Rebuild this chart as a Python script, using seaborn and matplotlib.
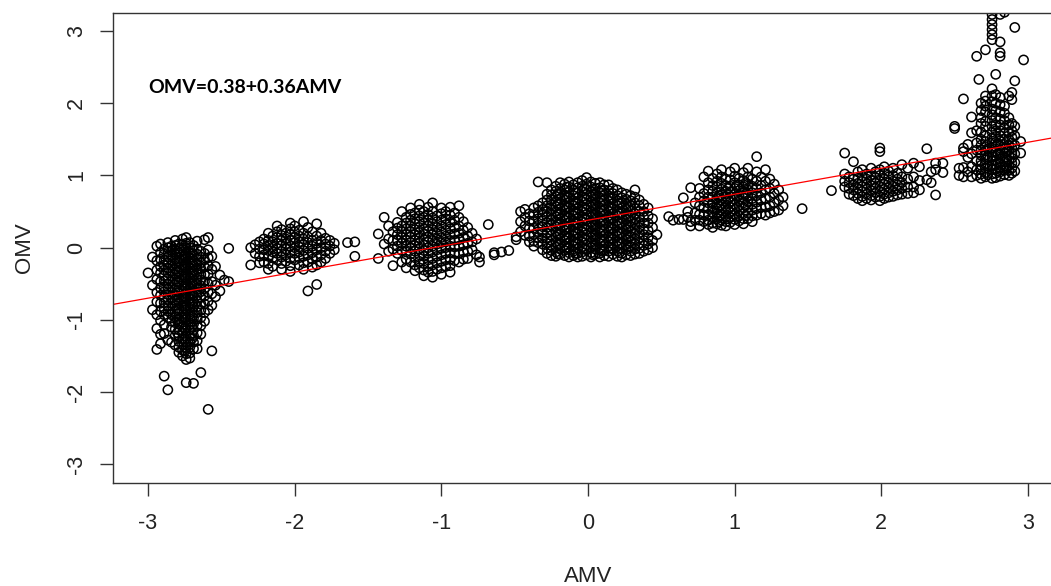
import pandas as pd
import matplotlib.pyplot as plt
import seaborn as sns

# points, grouped by cluster: AMV column -> OMV values
cluster_m3 = {
    -3.00: [-0.35],
    -2.97: [-0.13, -0.52, -0.86],
    -2.94: [0.02, -0.18, -0.31, -0.44, -0.62, -0.75, -0.93, -1.12, -1.41],
    -2.915: [0.05, -0.07, -0.16, -0.26, -0.35, -0.47, -0.56, -0.66, -0.77, -0.88, -1.01, -1.2, -1.33],
    -2.89: [-0.02, -0.09, -0.17, -0.24, -0.31, -0.39, -0.46, -0.54, -0.61, -0.69, -0.76, -0.84, -0.93, -1.07, -1.19, -1.78],
    -2.865: [0.07, 0.0, -0.06, -0.13, -0.21, -0.28, -0.35, -0.43, -0.5, -0.57, -0.65, -0.72, -0.8, -0.88, -0.97, -1.28, -1.97],
    -2.84: [0.02, -0.04, -0.11, -0.18, -0.25, -0.33, -0.4, -0.47, -0.55, -0.62, -0.7, -0.77, -0.85, -0.93, -1.02, -1.1, -1.31],
    -2.815: [0.1, 0.03, -0.03, -0.09, -0.16, -0.22, -0.3, -0.37, -0.44, -0.51, -0.58, -0.66, -0.73, -0.8, -0.88, -0.96, -1.04, -1.13, -1.22, -1.35],
    -2.80: [-0.05, -0.19, -0.33, -0.47, -0.6, -0.72, -0.86, -1.0, -1.18],
    -2.79: [0.05, -0.01, -0.07, -0.14, -0.2, -0.27, -0.34, -0.41, -0.48, -0.55, -0.62, -0.69, -0.76, -0.84, -0.91, -0.99, -1.06, -1.14, -1.22, -1.3, -1.38, -1.45],
    -2.765: [0.12, 0.04, -0.03, -0.1, -0.17, -0.24, -0.31, -0.38, -0.45, -0.52, -0.6, -0.67, -0.74, -0.81, -0.88, -0.96, -1.03, -1.1, -1.18, -1.26, -1.34, -1.42, -1.5],
    -2.75: [-0.12, -0.26, -0.4, -0.54, -0.68, -0.83, -0.97, -1.12, -1.27, -1.43],
    -2.74: [0.14, 0.06, -0.01, -0.08, -0.15, -0.22, -0.29, -0.36, -0.43, -0.5, -0.57, -0.64, -0.71, -0.79, -0.86, -0.93, -1.0, -1.08, -1.15, -1.23, -1.31, -1.39, -1.47, -1.55, -1.87],
    -2.715: [0.07, 0.0, -0.07, -0.14, -0.21, -0.28, -0.35, -0.42, -0.49, -0.56, -0.63, -0.7, -0.77, -0.84, -0.92, -0.99, -1.07, -1.14, -1.22, -1.3, -1.38, -1.46, -1.53],
    -2.70: [-0.08, -0.22, -0.36, -0.5, -0.64, -0.78, -0.95, -1.1, -1.26],
    -2.69: [0.03, -0.04, -0.11, -0.18, -0.25, -0.32, -0.39, -0.46, -0.53, -0.6, -0.67, -0.75, -0.82, -0.9, -0.98, -1.06, -1.14, -1.22, -1.31, -1.4, -1.88],
    -2.665: [0.09, -0.02, -0.09, -0.16, -0.23, -0.3, -0.37, -0.44, -0.51, -0.58, -0.66, -0.74, -0.82, -0.9, -0.99, -1.08, -1.18, -1.29, -1.4],
    -2.64: [-0.05, -0.13, -0.21, -0.29, -0.37, -0.45, -0.53, -0.61, -0.69, -0.78, -0.87, -0.97, -1.08, -1.2, -1.73],
    -2.615: [0.11, -0.08, -0.17, -0.27, -0.37, -0.47, -0.57, -0.67, -0.78, -0.9, -1.02],
    -2.59: [0.14, -0.03, -0.14, -0.25, -0.37, -0.5, -0.62, -0.74, -0.86, -2.24],
    -2.565: [-0.12, -0.3, -0.47, -0.64, -0.8, -1.43],
    -2.54: [-0.26, -0.52, -0.68],
    -2.51: [-0.38, -0.6],
    -2.48: [-0.45],
    -2.45: [-0.01, -0.47],
}

cluster_m2 = {
    -2.30: [0.0, -0.24],
    -2.27: [0.04, -0.08],
    -2.24: [0.08, -0.02, -0.12, -0.21],
    -2.21: [0.12, 0.05, -0.03, -0.1, -0.2],
    -2.18: [0.2, 0.1, 0.03, -0.04, -0.12, -0.22, -0.3],
    -2.15: [0.16, 0.08, 0.01, -0.06, -0.14, -0.26],
    -2.12: [0.3, 0.22, 0.14, 0.06, -0.01, -0.08, -0.17],
    -2.09: [0.25, 0.17, 0.1, 0.03, -0.05, -0.13, -0.22, -0.3],
    -2.06: [0.2, 0.12, 0.05, -0.02, -0.1, -0.19],
    -2.03: [0.34, 0.26, 0.18, 0.1, 0.02, -0.06, -0.15, -0.25, -0.33],
    -2.00: [0.3, 0.22, 0.14, 0.07, 0.0, -0.08, -0.17],
    -1.97: [0.24, 0.16, 0.08, 0.01, -0.06, -0.14, -0.24],
    -1.94: [0.36, 0.2, 0.12, 0.04, -0.04, -0.12, -0.21, -0.3],
    -1.91: [0.28, 0.15, 0.07, -0.01, -0.1, -0.2, -0.6],
    -1.88: [0.22, 0.1, 0.02, -0.07, -0.16, -0.27],
    -1.85: [0.33, 0.16, 0.06, -0.03, -0.13, -0.24, -0.51],
    -1.82: [0.2, 0.1, 0.0, -0.1, -0.2],
    -1.79: [0.13, 0.05, -0.05, -0.15],
    -1.76: [0.1, 0.02, -0.08],
    -1.73: [0.06, -0.03],
    -1.64: [0.07],
    -1.59: [0.08, -0.12],
}

cluster_m1 = {
    -1.43: [0.19, -0.15],
    -1.39: [0.42, 0.05],
    -1.36: [0.3, 0.12, -0.05],
    -1.33: [0.22, 0.1, -0.02, -0.25],
    -1.30: [0.35, 0.27, 0.18, 0.1, 0.02, -0.08],
    -1.27: [0.5, 0.3, 0.22, 0.14, 0.06, -0.04, -0.2],
    -1.24: [0.42, 0.34, 0.26, 0.18, 0.1, 0.02, -0.06, -0.16, -0.28],
    -1.21: [0.55, 0.46, 0.38, 0.3, 0.22, 0.15, 0.07, 0.0, -0.09, -0.2],
    -1.18: [0.48, 0.4, 0.33, 0.25, 0.18, 0.1, 0.03, -0.05, -0.14, -0.24, -0.32],
    -1.15: [0.6, 0.52, 0.44, 0.36, 0.28, 0.21, 0.13, 0.06, -0.02, -0.1, -0.19, -0.28],
    -1.12: [0.5, 0.42, 0.34, 0.26, 0.19, 0.11, 0.04, -0.04, -0.12, -0.22, -0.31, -0.39],
    -1.09: [0.56, 0.46, 0.38, 0.3, 0.23, 0.15, 0.08, 0.0, -0.08, -0.17, -0.26, -0.34],
    -1.06: [0.62, 0.5, 0.41, 0.33, 0.25, 0.18, 0.1, 0.02, -0.06, -0.15, -0.24, -0.33, -0.41],
    -1.03: [0.44, 0.36, 0.28, 0.2, 0.12, 0.05, -0.03, -0.12, -0.21, -0.3],
    -1.00: [0.55, 0.47, 0.38, 0.3, 0.22, 0.14, 0.07, -0.01, -0.1, -0.19, -0.28, -0.37],
    -0.97: [0.5, 0.4, 0.32, 0.24, 0.16, 0.08, 0.0, -0.08, -0.17, -0.26],
    -0.94: [0.56, 0.45, 0.35, 0.26, 0.18, 0.1, 0.02, -0.07, -0.16, -0.25, -0.34],
    -0.91: [0.48, 0.38, 0.28, 0.19, 0.1, 0.01, -0.08, -0.18],
    -0.88: [0.58, 0.42, 0.3, 0.2, 0.11, 0.02, -0.08, -0.2],
    -0.85: [0.36, 0.24, 0.14, 0.04, -0.06, -0.16],
    -0.82: [0.28, 0.16, 0.06, -0.05, -0.15],
    -0.79: [0.2, 0.08, -0.03],
    -0.76: [0.12, -0.1],
    -0.74: [-0.13, -0.2],
    -0.68: [0.32],
    -0.64: [-0.07, -0.1],
    -0.59: [-0.06],
    -0.54: [-0.04],
    -0.49: [0.15, 0.11],
}

cluster_0 = {
    -0.46: [0.5, 0.36, 0.22],
    -0.43: [0.53, 0.42, 0.3, 0.17],
    -0.40: [0.47, 0.37, 0.27, 0.16, 0.08],
    -0.37: [0.55, 0.45, 0.36, 0.27, 0.18, 0.09, 0.02],
    -0.34: [0.91, 0.58, 0.49, 0.4, 0.31, 0.22, 0.14, 0.07],
    -0.31: [0.62, 0.53, 0.45, 0.37, 0.29, 0.21, 0.13, 0.05, -0.03],
    -0.28: [0.9, 0.74, 0.66, 0.58, 0.5, 0.43, 0.35, 0.28, 0.2, 0.13, 0.06, -0.01, -0.08],
    -0.25: [0.8, 0.73, 0.66, 0.59, 0.52, 0.45, 0.38, 0.31, 0.24, 0.17, 0.1, 0.03, -0.04, -0.11],
    -0.22: [0.85, 0.78, 0.71, 0.64, 0.57, 0.5, 0.43, 0.36, 0.29, 0.22, 0.15, 0.08, 0.01, -0.06, -0.12],
    -0.205: [0.75, 0.61, 0.47, 0.33, 0.19, 0.05, -0.09],
    -0.19: [0.9, 0.82, 0.75, 0.68, 0.61, 0.54, 0.47, 0.4, 0.33, 0.26, 0.19, 0.12, 0.05, -0.02, -0.09],
    -0.16: [0.88, 0.8, 0.73, 0.66, 0.59, 0.52, 0.45, 0.38, 0.31, 0.24, 0.17, 0.1, 0.03, -0.04, -0.11],
    -0.145: [0.84, 0.7, 0.56, 0.42, 0.28, 0.14, 0.0],
    -0.13: [0.91, 0.84, 0.77, 0.7, 0.63, 0.56, 0.49, 0.42, 0.35, 0.28, 0.21, 0.14, 0.07, 0.0, -0.07, -0.13],
    -0.10: [0.87, 0.8, 0.72, 0.65, 0.58, 0.51, 0.44, 0.37, 0.3, 0.23, 0.16, 0.09, 0.02, -0.05, -0.11],
    -0.085: [0.76, 0.62, 0.48, 0.34, 0.2, 0.06, -0.08],
    -0.07: [0.9, 0.83, 0.76, 0.69, 0.62, 0.55, 0.48, 0.41, 0.34, 0.27, 0.2, 0.13, 0.06, -0.01, -0.08, -0.13],
    -0.04: [0.93, 0.85, 0.78, 0.71, 0.64, 0.57, 0.5, 0.43, 0.36, 0.29, 0.22, 0.15, 0.08, 0.01, -0.06, -0.12],
    -0.025: [0.82, 0.68, 0.54, 0.4, 0.26, 0.12, -0.02],
    -0.01: [0.97, 0.88, 0.81, 0.74, 0.67, 0.6, 0.53, 0.46, 0.39, 0.32, 0.25, 0.18, 0.11, 0.04, -0.03, -0.1],
    0.02: [0.91, 0.84, 0.77, 0.7, 0.63, 0.56, 0.49, 0.42, 0.35, 0.28, 0.21, 0.14, 0.07, 0.0, -0.07, -0.13],
    0.035: [0.73, 0.59, 0.45, 0.31, 0.17, 0.03, -0.1],
    0.05: [0.89, 0.82, 0.75, 0.68, 0.61, 0.54, 0.47, 0.4, 0.33, 0.26, 0.19, 0.12, 0.05, -0.02, -0.09],
    0.08: [0.9, 0.83, 0.76, 0.69, 0.62, 0.55, 0.48, 0.41, 0.34, 0.27, 0.2, 0.13, 0.06, -0.01, -0.08, -0.13],
    0.095: [0.79, 0.65, 0.51, 0.37, 0.23, 0.09, -0.05],
    0.11: [0.87, 0.8, 0.73, 0.66, 0.59, 0.52, 0.45, 0.38, 0.31, 0.24, 0.17, 0.1, 0.03, -0.04, -0.11],
    0.14: [0.87, 0.79, 0.72, 0.65, 0.58, 0.51, 0.44, 0.37, 0.3, 0.23, 0.16, 0.09, 0.02, -0.05, -0.12],
    0.155: [0.69, 0.55, 0.41, 0.27, 0.13, -0.01],
    0.17: [0.82, 0.75, 0.68, 0.61, 0.54, 0.47, 0.4, 0.33, 0.26, 0.19, 0.12, 0.05, -0.02, -0.09],
    0.20: [0.8, 0.72, 0.65, 0.58, 0.51, 0.44, 0.37, 0.3, 0.23, 0.16, 0.09, 0.02, -0.05, -0.12],
    0.215: [0.62, 0.48, 0.34, 0.2, 0.06, -0.07],
    0.23: [0.76, 0.69, 0.62, 0.55, 0.48, 0.41, 0.34, 0.27, 0.2, 0.13, 0.06, -0.01, -0.08, -0.13],
    0.26: [0.74, 0.67, 0.6, 0.53, 0.46, 0.39, 0.32, 0.25, 0.18, 0.11, 0.04, -0.03, -0.1],
    0.275: [0.57, 0.43, 0.29, 0.15, 0.01],
    0.29: [0.72, 0.65, 0.58, 0.51, 0.44, 0.37, 0.3, 0.23, 0.16, 0.09, 0.02, -0.05, -0.11],
    0.32: [0.8, 0.7, 0.62, 0.54, 0.47, 0.4, 0.33, 0.26, 0.19, 0.12, 0.05, -0.02, -0.09],
    0.35: [0.66, 0.58, 0.5, 0.42, 0.35, 0.28, 0.2, 0.13, 0.06, -0.01, -0.08],
    0.38: [0.6, 0.5, 0.42, 0.34, 0.26, 0.18, 0.1, 0.03, -0.05],
    0.41: [0.55, 0.44, 0.34, 0.24, 0.14, 0.05, -0.03],
    0.44: [0.4, 0.28, 0.1, 0.0],
    0.47: [0.18],
}

cluster_1 = {
    0.55: [0.43],
    0.58: [0.38],
    0.62: [0.39],
    0.65: [0.69, 0.39],
    0.68: [0.5, 0.42],
    0.70: [0.83, 0.36, 0.3],
    0.73: [0.62, 0.48, 0.38],
    0.76: [0.82, 0.7, 0.58, 0.46, 0.38, 0.3],
    0.79: [0.98, 0.75, 0.65, 0.55, 0.45, 0.36],
    0.82: [1.06, 0.9, 0.8, 0.7, 0.62, 0.54, 0.46, 0.38, 0.32],
    0.85: [0.96, 0.86, 0.78, 0.7, 0.62, 0.55, 0.48, 0.41, 0.34, 0.28],
    0.88: [1.02, 0.92, 0.84, 0.76, 0.68, 0.61, 0.54, 0.47, 0.4, 0.33],
    0.895: [0.72, 0.58, 0.44, 0.36],
    0.91: [1.08, 0.98, 0.89, 0.81, 0.73, 0.66, 0.59, 0.52, 0.45, 0.38, 0.31],
    0.94: [0.95, 0.86, 0.78, 0.71, 0.64, 0.57, 0.5, 0.43, 0.36, 0.3],
    0.955: [0.82, 0.67, 0.53, 0.4],
    0.97: [1.05, 0.94, 0.85, 0.77, 0.7, 0.63, 0.56, 0.49, 0.42, 0.35],
    1.00: [1.1, 0.99, 0.9, 0.82, 0.74, 0.67, 0.6, 0.53, 0.46, 0.39, 0.32],
    1.015: [0.86, 0.71, 0.56, 0.42],
    1.03: [0.96, 0.87, 0.79, 0.72, 0.65, 0.58, 0.51, 0.44, 0.37],
    1.06: [1.04, 0.93, 0.84, 0.76, 0.69, 0.62, 0.55, 0.47, 0.4, 0.33],
    1.075: [0.9, 0.74, 0.59, 0.44],
    1.09: [1.1, 0.98, 0.88, 0.8, 0.72, 0.64, 0.56, 0.48, 0.4],
    1.12: [0.95, 0.85, 0.76, 0.68, 0.6, 0.52, 0.44, 0.36],
    1.15: [1.26, 1.05, 0.92, 0.82, 0.72, 0.63, 0.54, 0.45],
    1.18: [0.98, 0.86, 0.76, 0.66, 0.56, 0.47],
    1.21: [1.08, 0.92, 0.8, 0.68, 0.56, 0.45],
    1.24: [0.95, 0.82, 0.7, 0.58, 0.48],
    1.27: [0.88, 0.75, 0.62, 0.5],
    1.30: [0.8, 0.66, 0.52],
    1.33: [0.7, 0.58],
    1.46: [0.54],
}

cluster_2 = {
    1.66: [0.79],
    1.75: [1.31, 1.02, 0.92, 0.84],
    1.78: [0.98, 0.9, 0.82, 0.74],
    1.81: [1.19, 0.95, 0.87, 0.8, 0.72],
    1.84: [1.05, 0.96, 0.89, 0.82, 0.75, 0.68],
    1.87: [1.08, 0.99, 0.92, 0.85, 0.78, 0.71, 0.65],
    1.90: [1.02, 0.95, 0.88, 0.81, 0.74, 0.68],
    1.93: [1.1, 1.0, 0.93, 0.86, 0.79, 0.72, 0.66],
    1.96: [1.05, 0.97, 0.9, 0.83, 0.76, 0.7],
    1.99: [1.38, 1.33, 1.08, 1.0, 0.92, 0.85, 0.78, 0.71, 0.65],
    2.02: [1.12, 1.03, 0.95, 0.88, 0.81, 0.74, 0.68],
    2.05: [1.06, 0.98, 0.9, 0.83, 0.76, 0.7],
    2.08: [1.1, 1.0, 0.92, 0.85, 0.78, 0.71],
    2.11: [1.03, 0.95, 0.87, 0.8, 0.73],
    2.14: [1.15, 0.98, 0.9, 0.82, 0.74],
    2.18: [1.1, 0.95, 0.84, 0.75],
    2.22: [1.17, 0.98, 0.84, 0.76],
    2.26: [1.12, 0.93, 0.8],
    2.31: [1.37, 0.94],
    2.34: [1.05, 0.9],
    2.37: [1.17, 1.08, 0.73],
    2.42: [1.17, 1.04],
}

cluster_3 = {
    2.50: [1.68, 1.65],
    2.53: [1.1, 1.0],
    2.56: [2.06, 1.38, 1.33, 1.11, 0.98],
    2.59: [1.43, 1.25, 1.05],
    2.615: [1.81, 1.59, 1.3, 1.12, 0.98],
    2.65: [2.65, 1.62, 1.45, 1.35, 1.2, 1.08, 1.0],
    2.665: [2.33],
    2.68: [2.0, 1.9, 1.8, 1.72, 1.6, 1.5, 1.42, 1.35, 1.28, 1.2, 1.14, 1.08, 1.02, 0.96],
    2.71: [2.74, 2.1, 2.03, 1.96, 1.88, 1.75, 1.68, 1.55, 1.47, 1.4, 1.34, 1.28, 1.22, 1.16, 1.1, 1.04, 0.98],
    2.725: [1.37, 1.25, 1.13, 1.01],
    2.755: [3.23, 3.16, 3.09, 3.02, 2.95, 2.88, 2.2, 2.1, 2.02, 1.92, 1.84, 1.76, 1.68, 1.6, 1.52, 1.45, 1.38, 1.32, 1.26, 1.2, 1.14, 1.08, 1.02, 0.96],
    2.78: [2.4, 2.12, 2.0, 1.9, 1.8, 1.7, 1.62, 1.54, 1.46, 1.4, 1.33, 1.27, 1.21, 1.15, 1.09, 1.03, 0.97],
    2.795: [1.44, 1.3, 1.18, 1.06],
    2.81: [3.23, 2.85, 2.7, 2.65, 2.08, 1.98, 1.88, 1.78, 1.7, 1.62, 1.55, 1.48, 1.41, 1.35, 1.29, 1.23, 1.17, 1.11, 1.05, 0.99],
    2.84: [3.26, 1.96, 1.86, 1.76, 1.66, 1.58, 1.5, 1.43, 1.37, 1.31, 1.25, 1.19, 1.13, 1.07, 1.01],
    2.855: [1.34, 1.22, 1.1],
    2.87: [2.1, 1.8, 1.7, 1.6, 1.5, 1.42, 1.35, 1.28, 1.21, 1.14, 1.07, 1.0],
    2.89: [2.15, 2.05, 1.72, 1.62, 1.53, 1.45, 1.38, 1.31, 1.24, 1.17, 1.1, 1.03],
    2.91: [3.05, 2.31, 1.68, 1.55, 1.42, 1.3, 1.18, 1.06],
    2.95: [1.47, 1.31],
    2.97: [2.6],
}

intercept = 0.38
slope = 0.36
x_ticks = [-3, -2, -1, 0, 1, 2, 3]
y_ticks = [-3, -2, -1, 0, 1, 2, 3]

rows = []
for cluster in [cluster_m3, cluster_m2, cluster_m1, cluster_0, cluster_1, cluster_2, cluster_3]:
    for amv, omvs in cluster.items():
        for omv in omvs:
            rows.append((amv, omv))
df = pd.DataFrame(rows, columns=["AMV", "OMV"])

sns.set_theme(style="white")
plt.rcParams['font.family'] = ['Liberation Sans', 'DejaVu Sans']
plt.rcParams['axes.unicode_minus'] = False

fig = plt.figure(figsize=(10.51, 5.86), dpi=100)
# right edge of the plot box is cut off in the original, so the axes run past the figure
ax = fig.add_axes([113 / 1051, 103 / 586, 943 / 1051, 470 / 586])

sns.scatterplot(data=df, x="AMV", y="OMV", ax=ax, marker="o", s=44,
                facecolor="none", edgecolor="black", linewidth=1.1)
for coll in ax.collections:
    coll.set_facecolor("none")
    coll.set_edgecolor("black")

ax.axline((0, intercept), slope=slope, color="red", lw=0.9)

ax.set_xlim(-3.239, 3.191)
ax.set_ylim(-3.26, 3.25)
ax.set_xticks(x_ticks)
ax.set_xticklabels([str(t) for t in x_ticks])
ax.set_yticks(y_ticks)
ax.set_yticklabels([str(t) for t in y_ticks], rotation=90, va="center")

ax.tick_params(axis="both", which="both", direction="out", bottom=True, left=True,
               length=9.5, width=1.0, color="#333333", labelsize=15.5, labelcolor="#222222")
ax.tick_params(axis="x", pad=12)
ax.tick_params(axis="y", pad=9)

for side in ["left", "bottom", "top", "right"]:
    ax.spines[side].set_color("#333333")
    ax.spines[side].set_linewidth(1.0)

ax.set_xlabel("AMV", fontsize=16, color="#222222", va="top")
ax.xaxis.set_label_coords((588 - 113) / 943, (483 - 566) / 470)
ax.set_ylabel("OMV", fontsize=16, color="#222222", va="center")
ax.yaxis.set_label_coords((24 - 113) / 943, 0.5)

ax.text(-3.0, 2.22, "OMV=0.38+0.36AMV", fontsize=14, fontweight="bold",
        family=["Lato", "DejaVu Sans"], ha="left", va="center", color="black")

fig.savefig("out.png", dpi=100)
